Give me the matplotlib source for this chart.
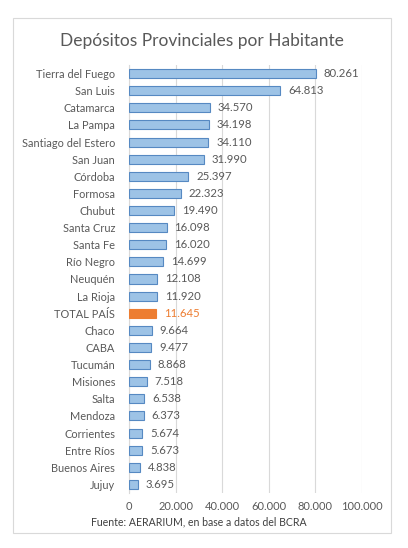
import matplotlib
matplotlib.use('Agg')
import matplotlib.pyplot as plt
from matplotlib.patches import Rectangle

# ── Data ─────────────────────────────────────────────────────────────────────
provincias = [
    "Tierra del Fuego", "San Luis", "Catamarca", "La Pampa",
    "Santiago del Estero", "San Juan", "Córdoba", "Formosa", "Chubut",
    "Santa Cruz", "Santa Fe", "Río Negro", "Neuquén", "La Rioja",
    "TOTAL PAÍS", "Chaco", "CABA", "Tucumán", "Misiones", "Salta",
    "Mendoza", "Corrientes", "Entre Ríos", "Buenos Aires", "Jujuy",
]
depositos = [
    80261, 64813, 34570, 34198, 34110, 31990, 25397, 22323, 19490,
    16098, 16020, 14699, 12108, 11920, 11645, 9664, 9477, 8868, 7518,
    6538, 6373, 5674, 5673, 4838, 3695,
]
xticks = [0, 20000, 40000, 60000, 80000, 100000]

TITLE = "Depósitos Provinciales por Habitante"
FUENTE = "Fuente: AERARIUM, en base a datos del BCRA"

# ── Style ────────────────────────────────────────────────────────────────────
plt.rcParams['font.family'] = ['Lato', 'DejaVu Sans']
GRAY = "#595959"
BLUE_FILL = "#9DC3E6"
BLUE_EDGE = "#5689C2"
ORANGE = "#ED7D31"


def fmt(v):
    return f"{v:,}".replace(",", ".")


fig = plt.figure(figsize=(4.08, 5.48), dpi=100)

# chart border
fig.patches.append(Rectangle((13 / 408, 1 - 533 / 548), 378 / 408, 515 / 548,
                             transform=fig.transFigure, fill=False,
                             edgecolor="#D9D9D9", lw=0.8))

ax = fig.add_axes([129 / 408, 1 - 493 / 548, 233 / 408, 428 / 548])

ypos = list(range(len(provincias)))
colors = [ORANGE if p == "TOTAL PAÍS" else BLUE_FILL for p in provincias]
edges = [ORANGE if p == "TOTAL PAÍS" else BLUE_EDGE for p in provincias]
ax.barh(ypos, depositos, height=0.53, color=colors, edgecolor=edges,
        linewidth=0.8, zorder=3)

for y, v, p in zip(ypos, depositos, provincias):
    c = ORANGE if p == "TOTAL PAÍS" else GRAY
    ax.text(v + 3400, y, fmt(v), va="center", ha="left", fontsize=8.2,
            color=c, zorder=4)

ax.set_ylim(len(provincias) - 0.5, -0.5)
ax.set_xlim(0, 100000)
ax.set_yticks(ypos)
ax.set_yticklabels(provincias, fontsize=7.9, color=GRAY)
ax.set_xticks(xticks)
ax.set_xticklabels([fmt(t) for t in xticks], fontsize=8, color=GRAY)
ax.tick_params(axis="y", length=0, pad=10)
ax.tick_params(axis="x", length=0, pad=6)
ax.grid(axis="x", color="#D9D9D9", lw=0.8, zorder=0)
for s in ["top", "right", "bottom"]:
    ax.spines[s].set_visible(False)
ax.spines["left"].set_color("#D9D9D9")
ax.spines["left"].set_linewidth(0.8)

fig.text(202 / 408, 1 - 41 / 548, TITLE, ha="center", va="center",
         fontsize=12.5, color=GRAY)
fig.text(199 / 408, 1 - 522 / 548, FUENTE, ha="center", va="center",
         fontsize=7.6, color="#404040")

fig.savefig("out.png", dpi=100)
